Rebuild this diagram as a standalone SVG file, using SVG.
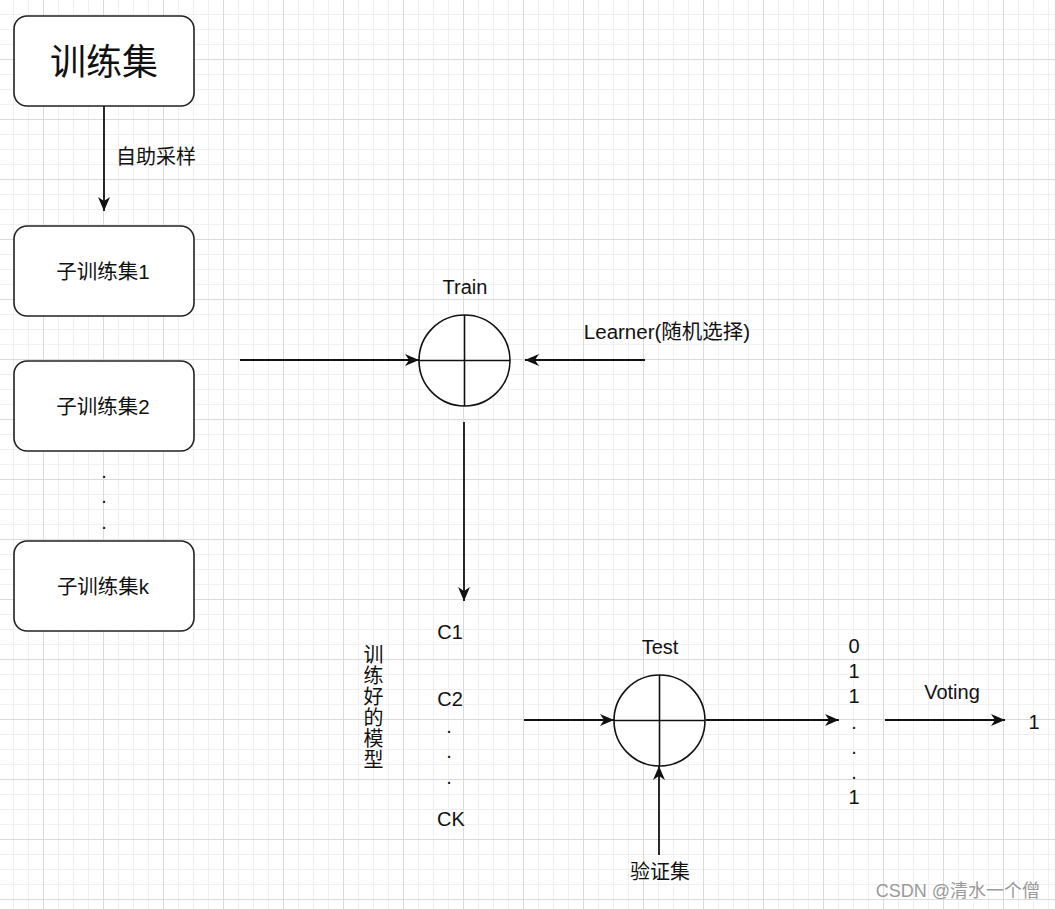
<svg xmlns="http://www.w3.org/2000/svg" width="1055" height="909" viewBox="0 0 1055 909">
<style>
.box{fill:#ffffff;stroke:#222222;stroke-width:1.6}
.circ{fill:#ffffff;stroke:#111111;stroke-width:1.6}
.cross{stroke:#111111;stroke-width:1.6;fill:none}
.edge{stroke:#111111;stroke-width:1.8;fill:none;marker-end:url(#arr)}
.t{font-family:"Liberation Sans","Noto Sans CJK SC",Arial,sans-serif;font-size:20px;fill:#111111}
.m{text-anchor:middle}
.s{font-size:20.5px}
</style>
<defs>
<pattern id="minor" x="13" y="14" width="15" height="15" patternUnits="userSpaceOnUse">
<path d="M0 0.5H15M0.5 0V15" stroke="#f0f0f0" stroke-width="1" fill="none"/>
</pattern>
<pattern id="major" x="43" y="59" width="60" height="60" patternUnits="userSpaceOnUse">
<path d="M0 0.5H60M0.5 0V60" stroke="#dadada" stroke-width="1" fill="none"/>
</pattern>
<marker id="arr" markerWidth="15" markerHeight="14" refX="14" refY="7" orient="auto" markerUnits="userSpaceOnUse">
<path d="M14 7L0 1L4 7L0 13Z" fill="#111111"/>
</marker>
</defs>
<rect width="1055" height="909" fill="#ffffff"/>
<rect width="1055" height="909" fill="url(#minor)"/>
<rect width="1055" height="909" fill="url(#major)"/>

<g id="connectors">
<line class="edge" x1="104" y1="106" x2="104" y2="211"/>
<line class="edge" x1="240" y1="360" x2="419" y2="360"/>
<line class="edge" x1="645" y1="360" x2="525" y2="360"/>
<line class="edge" x1="464" y1="422" x2="464" y2="601"/>
<line class="edge" x1="524" y1="720" x2="614" y2="720"/>
<line class="edge" x1="706" y1="720" x2="839" y2="720"/>
<line class="edge" x1="659" y1="855" x2="659" y2="766"/>
<line class="edge" x1="885" y1="720" x2="1005" y2="720"/>
<text class="t" x="116" y="164">自助采样</text>
<text class="t m" x="667" y="339" style="font-size:20.5px">Learner(随机选择)</text>
<text class="t m" x="952" y="699">Voting</text>
</g>

<g id="train-set">
<rect class="box" x="14" y="16" width="180" height="90" rx="13"/>
<text class="t m" x="104" y="75" style="font-size:36px">训练集</text>
</g>
<g id="sub1">
<rect class="box" x="14" y="226" width="180" height="90" rx="13"/>
<text class="t m s" x="103" y="279">子训练集1</text>
</g>
<g id="sub2">
<rect class="box" x="14" y="361" width="180" height="90" rx="13"/>
<text class="t m s" x="103" y="414">子训练集2</text>
</g>
<g id="sub-dots">
<text class="t m" x="104" y="478">.</text>
<text class="t m" x="104" y="503">.</text>
<text class="t m" x="104" y="529">.</text>
</g>
<g id="subk">
<rect class="box" x="14" y="541" width="180" height="90" rx="13"/>
<text class="t m s" x="103" y="594">子训练集k</text>
</g>

<g id="train">
<circle class="circ" cx="464.5" cy="360.5" r="45.5"/>
<path class="cross" d="M419 360.5H510M464.5 315V406"/>
<text class="t m" x="465" y="294">Train</text>
</g>

<g id="models">
<text class="t m" x="450" y="639">C1</text>
<text class="t m" x="450" y="706">C2</text>
<text class="t m" x="449" y="733">.</text>
<text class="t m" x="449" y="758">.</text>
<text class="t m" x="449" y="784">.</text>
<text class="t m" x="451" y="826">CK</text>
</g>
<g id="model-label">
<text class="t" x="372" y="707" style="writing-mode:vertical-rl;text-anchor:middle;font-size:20px;letter-spacing:1px">训练好的模型</text>
</g>

<g id="test">
<circle class="circ" cx="659.5" cy="720.5" r="45.5"/>
<path class="cross" d="M614 720.5H705M659.5 675V766"/>
<text class="t m" x="660" y="654">Test</text>
</g>

<g id="validation">
<text class="t m" x="660" y="879">验证集</text>
</g>

<g id="outputs">
<text class="t m" x="854" y="653">0</text>
<text class="t m" x="854" y="678">1</text>
<text class="t m" x="854" y="703">1</text>
<text class="t m" x="854" y="729">.</text>
<text class="t m" x="854" y="754">.</text>
<text class="t m" x="854" y="779">.</text>
<text class="t m" x="854" y="804">1</text>
</g>

<g id="result">
<text class="t m" x="1034" y="729">1</text>
</g>

<text x="1040" y="897" style="font-family:'Liberation Sans','Noto Sans CJK SC',sans-serif;font-size:18px;fill:#9a9a9a;text-anchor:end">CSDN @清水一个僧</text>
</svg>
